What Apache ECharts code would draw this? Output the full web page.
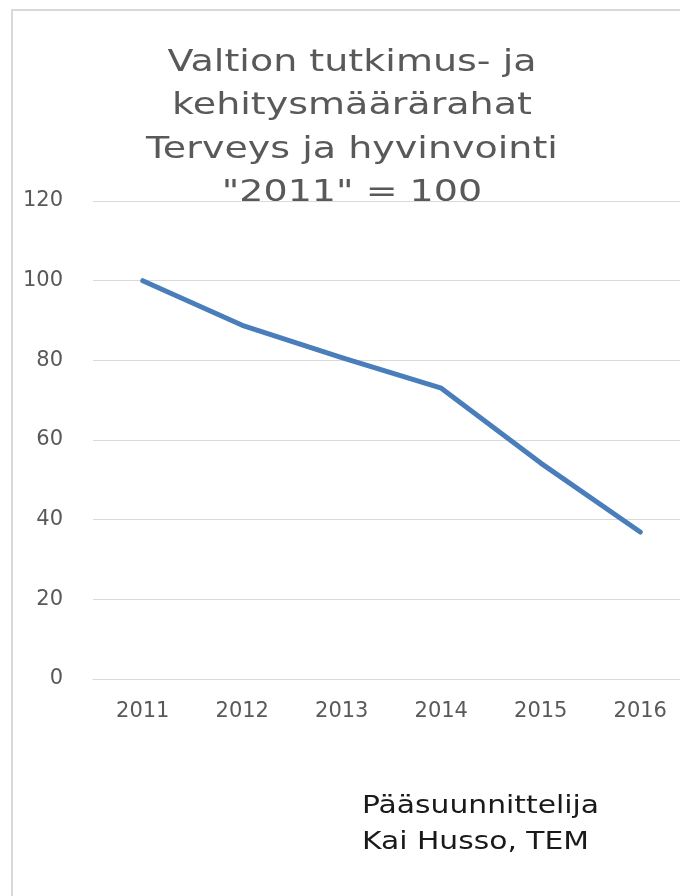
<!DOCTYPE html>
<html>
<head>
<meta charset="utf-8">
<script src="https://cdn.jsdelivr.net/npm/echarts@6/dist/echarts.min.js"></script>
<style>
  html, body { margin: 0; padding: 0; background: #ffffff; }
  #chart { width: 680px; height: 896px; }
</style>
</head>
<body>
<div id="chart"></div>
<script>
const years = ['2011', '2012', '2013', '2014', '2015', '2016'];
const values = [100, 88.8, 80.7, 73.0, 54.2, 36.9];
const yMin = 0;
const yMax = 120;
const yStep = 20;
const titleLines = ['Valtion tutkimus- ja', 'kehitysmäärärahat', 'Terveys ja hyvinvointi', '"2011" = 100'];
const footerLines = ['Pääsuunnittelija', 'Kai Husso, TEM'];

const chart = echarts.init(document.getElementById('chart'), null, { renderer: 'canvas' });

const option = {
  backgroundColor: '#ffffff',
  animation: false,
  grid: { left: 93, width: 597, top: 201, bottom: 217, containLabel: false, outerBoundsMode: 'none' },
  xAxis: {
    type: 'category',
    data: years,
    boundaryGap: true,
    axisLine: { show: true, lineStyle: { color: '#d9d9d9', width: 1 } },
    axisTick: { show: false },
    axisLabel: { color: '#595959', fontFamily: 'DejaVu Sans', fontSize: 21, margin: 22 },
    splitLine: { show: false }
  },
  yAxis: {
    type: 'value',
    min: yMin,
    max: yMax,
    interval: yStep,
    axisLine: { show: false },
    axisTick: { show: false },
    axisLabel: { color: '#595959', fontFamily: 'DejaVu Sans', fontSize: 21, margin: 30 },
    splitLine: { show: true, lineStyle: { color: '#d9d9d9', width: 1 } }
  },
  series: [{
    type: 'line',
    data: values,
    smooth: false,
    symbol: 'none',
    lineStyle: { color: '#4a7ebb', width: 5, cap: 'round', join: 'round' },
    z: 3
  }],
  graphic: [
    {
      type: 'rect',
      shape: { x: 12, y: 10, width: 720, height: 920 },
      style: { fill: 'none', stroke: '#d9d9d9', lineWidth: 2 },
      silent: true,
      z: 0
    },
    {
      type: 'text',
      x: 352,
      y: 41,
      scaleX: 1.227,
      style: {
        text: titleLines.join('\n'),
        font: '31px "DejaVu Sans"',
        fill: '#595959',
        align: 'center',
        verticalAlign: 'top',
        lineHeight: 43.5
      },
      z: 10
    },
    {
      type: 'text',
      x: 362,
      y: 789,
      scaleX: 1.24,
      style: {
        text: footerLines.join('\n'),
        font: '24px "DejaVu Sans"',
        fill: '#1a1a1a',
        align: 'left',
        verticalAlign: 'top',
        lineHeight: 36
      },
      z: 10
    }
  ]
};

chart.setOption(option);
</script>
</body>
</html>
